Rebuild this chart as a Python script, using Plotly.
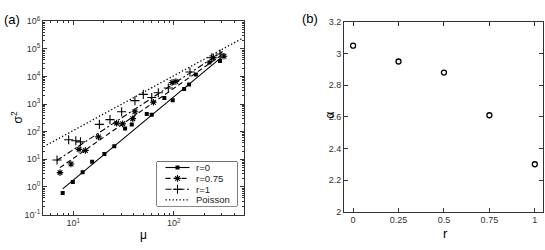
import plotly.graph_objects as go

# ---------------- data: panel (a) ----------------
mu_r0 = [7.85, 9.9, 12.4, 15.4, 20.4, 25.6, 32.8, 38.2, 53.9, 60.4, 80.6, 97.7, 127, 142, 166, 226, 289]
var_r0 = [0.6, 1.5, 3.4, 8.2, 15.5, 30, 130, 184, 442, 408, 1650, 1370, 3550, 5130, 11700, 32100, 36500]

mu_r075 = [7.38, 9.5, 11.4, 13.2, 17.8, 27, 31, 39.1, 41.1, 62.7, 96.2, 105, 248, 316]
var_r075 = [3.3, 6.8, 23, 21, 65, 204, 193, 297, 530, 1170, 6070, 6560, 47800, 54200]

mu_r1 = [6.9, 9.0, 10.6, 11.8, 18.2, 23.2, 30.3, 41.1, 49.8, 60.4, 70.2, 88.3, 145, 239, 289]
var_r1 = [9.5, 51, 47, 43, 184, 274, 530, 1340, 2260, 1740, 2590, 3850, 14500, 47800, 65600]

# fitted power-law lines (endpoints)
fit_r0_x = [7.85, 300]
fit_r0_y = [0.85, 50100]
fit_r075_x = [7.38, 311]
fit_r075_y = [5.0, 65600]
fit_r1_x = [6.84, 307]
fit_r1_y = [9.0, 80700]
poisson_x = [5.44, 474]
poisson_y = [32.9, 234000]

# ---------------- data: panel (b) ----------------
r_vals = [0, 0.25, 0.5, 0.75, 1]
alpha_vals = [3.05, 2.95, 2.88, 2.61, 2.30]

legend_names = ["r=0", "r=0.75", "r=1", "Poisson"]

BLACK = "#000000"
AXC = "#333333"
FONT = "Liberation Sans, Arial, sans-serif"

styles = [
    dict(line=dict(color=BLACK, width=1.1),
         marker=dict(symbol="square", size=4, color=BLACK)),
    dict(line=dict(color=BLACK, width=1.1, dash="5px,3px"),
         marker=dict(symbol="asterisk-open", size=5.5, color=BLACK,
                     line=dict(color=BLACK, width=1.1))),
    dict(line=dict(color=BLACK, width=1.1, dash="6px,2.5px,2px,2.5px"),
         marker=dict(symbol="cross-thin-open", size=6.5, color=BLACK,
                     line=dict(color=BLACK, width=1.1))),
    dict(line=dict(color=BLACK, width=1.3, dash="1.3px,2.2px"), marker=None),
]

fig = go.Figure()

pts = [(mu_r0, var_r0), (mu_r075, var_r075), (mu_r1, var_r1)]
fits = [(fit_r0_x, fit_r0_y), (fit_r075_x, fit_r075_y), (fit_r1_x, fit_r1_y), (poisson_x, poisson_y)]

for (fx, fy), st in zip(fits, styles):
    fig.add_trace(go.Scatter(x=fx, y=fy, mode="lines", xaxis="x", yaxis="y",
                             line=st["line"], hoverinfo="skip"))
for (px, py), st in zip(pts, styles):
    fig.add_trace(go.Scatter(x=px, y=py, mode="markers", xaxis="x", yaxis="y",
                             marker=st["marker"]))

# panel (b)
fig.add_trace(go.Scatter(x=r_vals, y=alpha_vals, mode="markers", xaxis="x2", yaxis="y2",
                         marker=dict(symbol="circle-open", size=5, color=BLACK,
                                     line=dict(color=BLACK, width=1.3))))

# legend drawn in its own small axes (pixel units)
LX0, LX1, LY0, LY1 = 157, 237, 162.7, 209
leg_rows = [168.6, 180.0, 191.4, 202.6]
for yrow, st in zip(leg_rows, styles):
    fig.add_trace(go.Scatter(x=[165.5, 189.5], y=[yrow, yrow], mode="lines",
                             xaxis="x3", yaxis="y3", line=st["line"], hoverinfo="skip"))
    if st["marker"] is not None:
        fig.add_trace(go.Scatter(x=[177.5], y=[yrow], mode="markers",
                                 xaxis="x3", yaxis="y3", marker=st["marker"], hoverinfo="skip"))

x_minor = [6, 7, 8, 9, 20, 30, 40, 50, 60, 70, 80, 90, 200, 300, 400]
y_minor = [m * 10 ** e for e in range(-1, 6) for m in range(2, 10)]

common = dict(showline=True, linecolor=AXC, linewidth=1, mirror="ticks",
              ticks="inside", tickcolor=AXC, ticklen=4, tickwidth=1,
              showgrid=False, zeroline=False,
              tickfont=dict(family=FONT, size=9, color="#333333"))


def ann(text, x, y, size=12, angle=0):
    return dict(text=text, x=x / 545, y=1 - y / 250, xref="paper", yref="paper",
                xanchor="center", yanchor="middle", showarrow=False, textangle=angle,
                font=dict(family=FONT, size=size, color=BLACK))


annotations = [
    ann("(a)", 12, 13, 13),
    ann("(b)", 310, 12, 13),
    ann("σ<sup>2</sup>", 17, 116, 12, -90),
    ann("μ", 143, 240, 12),
    ann("α", 330, 114, 12, -90),
    ann("r", 445, 238, 13),
]
for yrow, name in zip(leg_rows, legend_names):
    annotations.append(dict(text=name, x=194, y=yrow, xref="x3", yref="y3",
                            xanchor="left", yanchor="middle", showarrow=False,
                            font=dict(family=FONT, size=9.5, color="#222222")))

fig.update_layout(
    width=545, height=250,
    margin=dict(l=0, r=0, t=0, b=0),
    paper_bgcolor="white", plot_bgcolor="white",
    showlegend=False,
    font=dict(family=FONT, color=BLACK),
    xaxis=dict(type="log", domain=[43 / 545, 244 / 545], range=[0.699, 2.699],
               tickmode="array", tickvals=[10, 100],
               ticktext=["10<sup>1</sup>", "10<sup>2</sup>"],
               minor=dict(tickmode="array", tickvals=x_minor, ticks="inside", ticklen=2,
                          tickcolor=AXC),
               anchor="y", **common),
    yaxis=dict(type="log", domain=[1 - 218 / 250, 1 - 15 / 250], range=[-1, 6],
               tickmode="array", tickvals=[10 ** e for e in range(-1, 7)],
               ticktext=["10<sup>%d</sup>" % e for e in range(-1, 7)],
               minor=dict(tickmode="array", tickvals=y_minor, ticks="inside", ticklen=2,
                          tickcolor=AXC),
               anchor="x", **common),
    xaxis2=dict(domain=[344 / 545, 543 / 545], range=[-0.05, 1.045],
                tickmode="array", tickvals=[0, 0.25, 0.5, 0.75, 1],
                ticktext=["0", "0.25", "0.5", "0.75", "1"],
                anchor="y2", **common),
    yaxis2=dict(domain=[1 - 215 / 250, 1 - 15.7 / 250], range=[2, 3.2],
                tickmode="array", tickvals=[2, 2.2, 2.4, 2.6, 2.8, 3, 3.2],
                ticktext=["2", "2.2", "2.4", "2.6", "2.8", "3", "3.2"],
                anchor="x2", **common),
    xaxis3=dict(domain=[LX0 / 545, LX1 / 545], range=[LX0, LX1], visible=False,
                anchor="y3", fixedrange=True),
    yaxis3=dict(domain=[1 - LY1 / 250, 1 - LY0 / 250], range=[LY1, LY0], visible=False,
                anchor="x3", fixedrange=True),
    shapes=[dict(type="rect", xref="paper", yref="paper",
                 x0=LX0 / 545, x1=LX1 / 545, y0=1 - LY1 / 250, y1=1 - LY0 / 250,
                 line=dict(color=BLACK, width=1), fillcolor="white", layer="below")],
    annotations=annotations,
)

fig.write_html("out.html", config={"displayModeBar": False},
               post_script="document.body.style.margin='0';document.body.style.padding='0';")
